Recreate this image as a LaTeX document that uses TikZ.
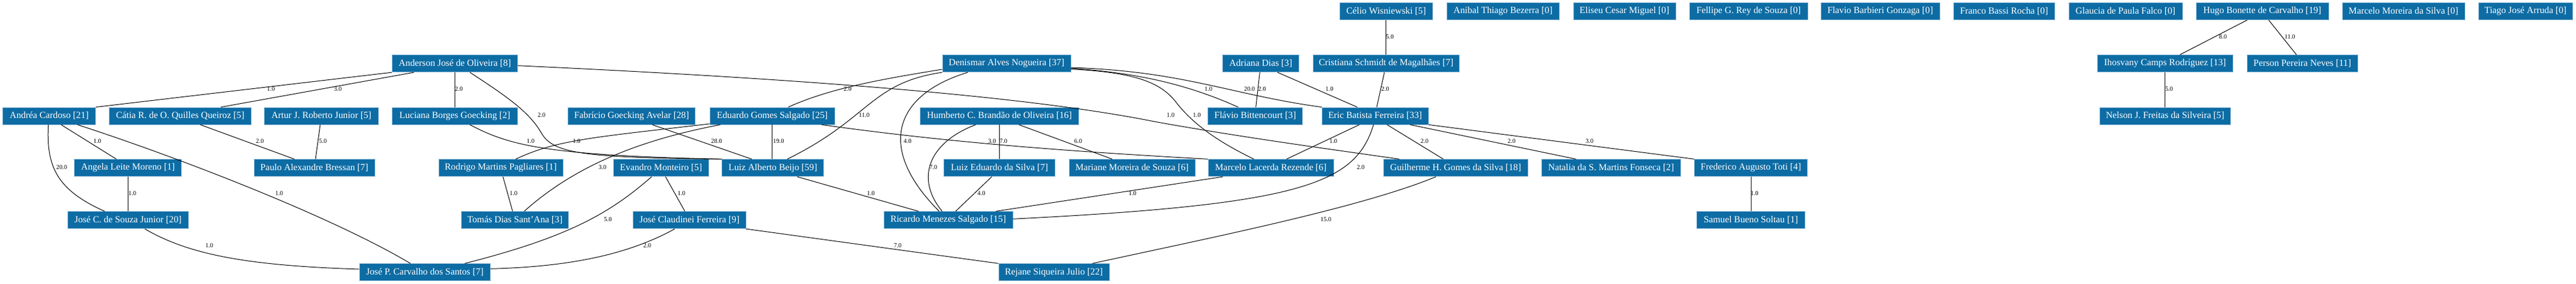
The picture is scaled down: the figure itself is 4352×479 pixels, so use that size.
\documentclass[tikz,border=0pt]{standalone}
\usepackage{fontspec}
\setmainfont{Liberation Serif}
\definecolor{boxblue}{RGB}{13,108,164}
\definecolor{boxline}{RGB}{150,190,220}
\tikzset{
  pbox/.style={draw=boxline, line width=0.7pt, fill=boxblue, text=white,
    font=\fontsize{15.8pt}{18pt}\selectfont, minimum height=29pt,
    inner xsep=0pt, inner ysep=0pt, anchor=center},
  ed/.style={line width=1pt, black},
  lbl/.style={font=\fontsize{10.5pt}{12pt}\selectfont, inner sep=0pt, text=black}
}
\begin{document}
\begin{tikzpicture}[x=1pt,y=-1pt]
\fill[white] (0,0) rectangle (4352,479);
\useasboundingbox (0,0) rectangle (4352,479);
% row 1
\node[pbox, minimum width=157.5pt] (celio) at (2341.8,19) {Célio Wisniewski [5]};
\node[pbox, minimum width=190.6pt] (anibal) at (2539.2,19) {Anibal Thiago Bezerra [0]};
\node[pbox, minimum width=172.9pt] (eliseu) at (2744.4,19) {Eliseu Cesar Miguel [0]};
\node[pbox, minimum width=200pt] (fellipe) at (2954.2,19) {Fellipe G. Rey de Souza [0]};
\node[pbox, minimum width=201pt] (flaviog) at (3176.5,19) {Flavio Barbieri Gonzaga [0]};
\node[pbox, minimum width=171.6pt] (franco) at (3385.7,19) {Franco Bassi Rocha [0]};
\node[pbox, minimum width=191.9pt] (glaucia) at (3590.9,19) {Glaucia de Paula Falco [0]};
\node[pbox, minimum width=223.8pt] (hugo) at (3821.9,19) {Hugo Bonette de Carvalho [19]};
\node[pbox, minimum width=207pt] (marcelom) at (4060.5,19) {Marcelo Moreira da Silva [0]};
\node[pbox, minimum width=159.7pt] (tiago) at (4266.7,19) {Tiago José Arruda [0]};
% row 2
\node[pbox, minimum width=212pt] (anderson) at (768.5,107.2) {Anderson José de Oliveira [8]};
\node[pbox, minimum width=217.2pt] (denismar) at (1700.5,107.2) {Denismar Alves Nogueira [37]};
\node[pbox, minimum width=129pt] (adriana) at (2130,107.2) {Adriana Dias [3]};
\node[pbox, minimum width=247.5pt] (cristiana) at (2341.8,107.2) {Cristiana Schmidt de Magalhães [7]};
\node[pbox, minimum width=229.6pt] (ihosvany) at (3657.8,107.2) {Ihosvany Camps Rodríguez [13]};
\node[pbox, minimum width=187.4pt] (person) at (3889.6,107.2) {Person Pereira Neves [11]};
% row 3
\node[pbox, minimum width=157pt] (andrea) at (83.1,195.5) {Andréa Cardoso [21]};
\node[pbox, minimum width=239.7pt] (catia) at (304.5,195.5) {Cátia R. de O. Quilles Queiroz [5]};
\node[pbox, minimum width=192.4pt] (artur) at (543,195.5) {Artur J. Roberto Junior [5]};
\node[pbox, minimum width=212pt] (luciana) at (768.5,195.5) {Luciana Borges Goecking [2]};
\node[pbox, minimum width=215.4pt] (fabricio) at (1067.1,195.5) {Fabrício Goecking Avelar [28]};
\node[pbox, minimum width=211.2pt] (eduardo) at (1304.8,195.5) {Eduardo Gomes Salgado [25]};
\node[pbox, minimum width=267.3pt] (humberto) at (1688.4,195.5) {Humberto C. Brandão de Oliveira [16]};
\node[pbox, minimum width=160pt] (flaviob) at (2120.6,195.5) {Flávio Bittencourt [3]};
\node[pbox, minimum width=180pt] (eric) at (2323.2,195.5) {Eric Batista Ferreira [33]};
\node[pbox, minimum width=221.6pt] (nelson) at (3657.8,195.5) {Nelson J. Freitas da Silveira [5]};
% row 4
\node[pbox, minimum width=181pt] (angela) at (216.3,283.2) {Angela Leite Moreno [1]};
\node[pbox, minimum width=204.3pt] (paulo) at (531,283.2) {Paulo Alexandre Bressan [7]};
\node[pbox, minimum width=210.3pt] (rodrigo) at (846,283.2) {Rodrigo Martins Pagliares [1]};
\node[pbox, minimum width=160.3pt] (evandro) at (1116.8,283.2) {Evandro Monteiro [5]};
\node[pbox, minimum width=171.8pt] (beijo) at (1305.7,283.2) {Luiz Alberto Beijo [59]};
\node[pbox, minimum width=187.8pt] (luizedu) at (1688.6,283.2) {Luiz Eduardo da Silva [7]};
\node[pbox, minimum width=213.1pt] (mariane) at (1912.5,283.2) {Mariane Moreira de Souza [6]};
\node[pbox, minimum width=212pt] (marcelol) at (2147,283.2) {Marcelo Lacerda Rezende [6]};
\node[pbox, minimum width=244.3pt] (guilherme) at (2459.2,283.2) {Guilherme H. Gomes da Silva [18]};
\node[pbox, minimum width=234.1pt] (natalia) at (2721.8,283.2) {Natalia da S. Martins Fonseca [2]};
\node[pbox, minimum width=190.5pt] (frederico) at (2958,283.2) {Frederico Augusto Toti [4]};
% row 5
\node[pbox, minimum width=204pt] (josec) at (216.3,371.2) {José C. de Souza Junior [20]};
\node[pbox, minimum width=181pt] (tomas) at (869.9,371.2) {Tomás Dias Sant'Ana [3]};
\node[pbox, minimum width=190.1pt] (claudinei) at (1164.8,371.2) {José Claudinei Ferreira [9]};
\node[pbox, minimum width=218.1pt] (ricardo) at (1601.9,371.2) {Ricardo Menezes Salgado [15]};
\node[pbox, minimum width=182.5pt] (samuel) at (2958,371.2) {Samuel Bueno Soltau [1]};
% row 6
\node[pbox, minimum width=221.6pt] (josep) at (717.8,459.2) {José P. Carvalho dos Santos [7]};
\node[pbox, minimum width=187pt] (rejane) at (1780.5,459.2) {Rejane Siqueira Julio [22]};

% edges
\draw[ed] (anderson.south west) -- (andrea.north east);
\draw[ed] ([xshift=-69.1pt]anderson.south) -- ([xshift=68.8pt]catia.north);
\draw[ed] (anderson.south) -- (luciana.north);
\draw[ed] ([xshift=25.3pt]anderson.south) .. controls (860,165) and (895,190) .. (915,225) .. controls (935,258) and (980,266) .. (beijo.north west);
\draw[ed] ([yshift=-3.5pt]anderson.east) .. controls (1400,135) and (1750,165) .. (1950,205) .. controls (2100,232) and (2250,252) .. ([xshift=-95.2pt]guilherme.north);
\draw[ed] ([xshift=20.2pt]andrea.south) -- ([xshift=-19.8pt]angela.north);
\draw[ed] ([xshift=-1.4pt]andrea.south) .. controls (78,280) and (95,320) .. ([xshift=-39.5pt]josec.north);
\draw[ed] ([xshift=47.8pt]andrea.south) .. controls (300,265) and (560,365) .. ([xshift=-24.4pt]josep.north);
\draw[ed] ([xshift=33.9pt]catia.south) -- ([xshift=-33.7pt]paulo.north);
\draw[ed] ([xshift=-2pt]artur.south) -- ([xshift=2pt]paulo.north);
\draw[ed] (angela.south) -- (josec.north);
\draw[ed] ([xshift=28.4pt]josec.south) .. controls (320,430) and (420,448) .. ([yshift=5.2pt]josep.west);
\draw[ed] ([xshift=25.3pt]luciana.south) .. controls (860,245) and (920,262) .. (beijo.north west);
\draw[ed] ([yshift=1.5pt]eduardo.south west) .. controls (1000,232) and (940,236) .. ([xshift=25.3pt]rodrigo.north);
\draw[ed] ([xshift=-87.9pt]eduardo.south) .. controls (1060,240) and (960,290) .. ([xshift=15.7pt]tomas.north);
\draw[ed] ([xshift=34.9pt]fabricio.south) -- ([xshift=-35.7pt]beijo.north);
\draw[ed] (eduardo.south) -- (eduardo.south |- beijo.north);
\draw[ed] ([yshift=-9.8pt]denismar.west) .. controls (1480,135) and (1400,150) .. ([xshift=26.9pt]eduardo.north);
\draw[ed] (denismar.south west) .. controls (1470,140) and (1470,200) .. ([xshift=24.3pt]beijo.north);
\draw[ed] ([xshift=-65.5pt]denismar.south) .. controls (1510,160) and (1480,250) .. ([xshift=-15.2pt]ricardo.north);
\draw[ed] ([xshift=-40.1pt]humberto.south) .. controls (1570,240) and (1545,300) .. ([xshift=-10.2pt]ricardo.north);
\draw[ed] (humberto.south) -- (humberto.south |- luizedu.north);
\draw[ed] ([xshift=33pt]humberto.south) -- ([xshift=-33.5pt]mariane.north);
\draw[ed] ([xshift=-13.1pt]luizedu.south) -- ([xshift=12.6pt]ricardo.north);
\draw[ed] ([xshift=83.5pt]eduardo.south) .. controls (1600,240) and (1800,255) .. (marcelol.north west);
\draw[ed] ([xshift=41pt]beijo.south) -- ([xshift=-50.2pt]ricardo.north);
\draw[ed] ([xshift=-81pt]marcelol.south) -- ([xshift=80.5pt]ricardo.north);
\draw[ed] ([xshift=-2.8pt]eric.south) .. controls (2290,310) and (2200,345) .. ([yshift=1.9pt]ricardo.east);
\draw[ed] ([yshift=-7.8pt]denismar.east) .. controls (1900,122) and (1990,135) .. ([xshift=-28.9pt]flaviob.north);
\draw[ed] ([yshift=-6.8pt]denismar.east) .. controls (2000,120) and (2080,160) .. (eric.north west);
\draw[ed] ([yshift=-9.5pt]denismar.east) .. controls (1920,122) and (1960,140) .. (1985,170) .. controls (2015,210) and (2060,240) .. ([xshift=-28.7pt]marcelol.north);
\draw[ed] ([xshift=-1.7pt]adriana.south) -- ([xshift=1.1pt]flaviob.north);
\draw[ed] ([xshift=28.3pt]adriana.south) -- ([xshift=-30.3pt]eric.north);
\draw[ed] (celio.south) -- (celio.south |- cristiana.north);
\draw[ed] ([xshift=-3pt]cristiana.south) -- ([xshift=2.7pt]eric.north);
\draw[ed] ([xshift=-26.7pt]eric.south) -- ([xshift=26.5pt]marcelol.north);
\draw[ed] ([xshift=20.2pt]eric.south) -- ([xshift=-20.8pt]guilherme.north);
\draw[ed] ([xshift=59.2pt]eric.south) -- ([xshift=-59.3pt]natalia.north);
\draw[ed] (eric.south east) -- (frederico.north west);
\draw[ed] ([xshift=-33.2pt]guilherme.south) .. controls (2300,350) and (2050,400) .. ([xshift=64.9pt]rejane.north);
\draw[ed] (frederico.south) -- (samuel.north);
\draw[ed] ([xshift=3.7pt]rodrigo.south) -- ([xshift=-3.9pt]tomas.north);
\draw[ed] ([xshift=-15.9pt]evandro.south) .. controls (1030,360) and (960,400) .. ([xshift=67.2pt]josep.north);
\draw[ed] ([xshift=7.5pt]evandro.south) -- ([xshift=-7.8pt]claudinei.north);
\draw[ed] ([xshift=-24.9pt]claudinei.south) .. controls (1060,430) and (960,450) .. ([yshift=5.9pt]josep.east);
\draw[ed] (claudinei.south east) -- (rejane.north west);
\draw[ed] ([xshift=-25.5pt]hugo.south) -- ([xshift=24.9pt]ihosvany.north);
\draw[ed] ([xshift=10.9pt]hugo.south) -- ([xshift=-9.9pt]person.north);
\draw[ed] (ihosvany.south) -- (nelson.north);

% edge labels
\node[lbl] (la1) at (457.8,150) {1.0};
\node[lbl] (la2) at (570.8,150) {3.0};
\node[lbl] (la3) at (775.3,150) {2.0};
\node[lbl] (la4) at (914.9,194) {2.0};
\node[lbl] (la5) at (1977.7,194) {1.0};
\node[lbl] (la6) at (164.4,238) {1.0};
\node[lbl] (la7) at (104.2,282.3) {20.0};
\node[lbl] (la8) at (471.6,325.7) {1.0};
\node[lbl] (la9) at (439,238) {2.0};
\node[lbl] (la10) at (545.5,238) {5.0};
\node[lbl] (la11) at (223.6,325.7) {1.0};
\node[lbl] (la12) at (353.6,414) {1.0};
\node[lbl] (la13) at (896.5,238) {1.0};
\node[lbl] (la14) at (974.1,238) {1.0};
\node[lbl] (la15) at (1017.8,282.3) {3.0};
\node[lbl] (la16) at (1210.6,238) {28.0};
\node[lbl] (la17) at (1315.3,238) {19.0};
\node[lbl] (la18) at (1432,150) {2.0};
\node[lbl] (la19) at (1460.2,194) {11.0};
\node[lbl] (la20) at (1533.2,238) {4.0};
\node[lbl] (la21) at (1676,238) {3.0};
\node[lbl] (la22) at (1695.3,238) {7.0};
\node[lbl] (la23) at (1821.5,238) {6.0};
\node[lbl] (la24) at (1576.8,282.3) {7.0};
\node[lbl] (la25) at (1471.2,325.7) {1.0};
\node[lbl] (la26) at (1658,325.7) {4.0};
\node[lbl] (la27) at (1913.4,325.7) {1.0};
\node[lbl] (la28) at (1516.6,414) {7.0};
\node[lbl] (la29) at (2041.6,150) {1.0};
\node[lbl] (la30) at (2111,150) {20.0};
\node[lbl] (la31) at (2022,194) {1.0};
\node[lbl] (la32) at (2132.2,150) {2.0};
\node[lbl] (la33) at (2246,150) {1.0};
\node[lbl] (la34) at (2348,61.7) {5.0};
\node[lbl] (la35) at (2340.2,150) {2.0};
\node[lbl] (la36) at (2252.6,238) {1.0};
\node[lbl] (la37) at (2406.7,238) {2.0};
\node[lbl] (la38) at (2553.7,238) {2.0};
\node[lbl] (la39) at (2685.5,238) {3.0};
\node[lbl] (la40) at (2298.8,282.3) {2.0};
\node[lbl] (la41) at (2240,370) {15.0};
\node[lbl] (la42) at (2964.1,325.7) {1.0};
\node[lbl] (la43) at (867.6,325.7) {1.0};
\node[lbl] (la44) at (1151.4,325.7) {1.0};
\node[lbl] (la45) at (1027,370) {5.0};
\node[lbl] (la46) at (1093.5,414) {2.0};
\node[lbl] (la47) at (3755.5,61.7) {8.0};
\node[lbl] (la48) at (3868.6,61.7) {11.0};
\node[lbl] (la49) at (3664.6,150) {5.0};
\end{tikzpicture}
\end{document}
